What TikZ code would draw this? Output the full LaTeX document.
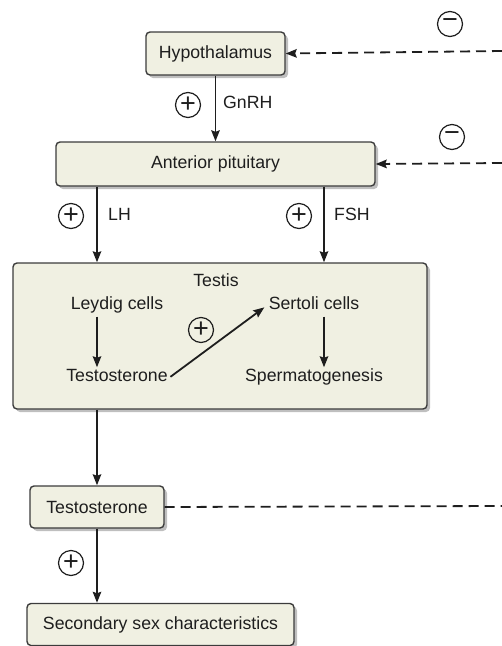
\documentclass[tikz,border=0pt]{standalone}
\usepackage{fontspec}
\setmainfont{Liberation Sans}
\usetikzlibrary{arrows.meta,shadows,calc}
\definecolor{boxfill}{RGB}{240,240,226}
\definecolor{boxline}{RGB}{60,60,60}
\definecolor{ink}{RGB}{30,30,30}
\begin{document}
\begin{tikzpicture}[x=1pt,y=-1pt,
  font=\fontsize{17.7}{20}\selectfont, text=ink,
  organ/.style={draw=boxline, line width=1.4pt, fill=boxfill, rounded corners=4pt,
    inner sep=0pt, drop shadow={shadow xshift=3pt, shadow yshift=-3pt, opacity=0.25, fill=black}},
  lbl/.style={inner sep=1pt, text height=13pt, text depth=4pt},
  sign/.style={circle, draw=ink, line width=1.2pt, minimum size=25pt, inner sep=0pt,
    font=\fontsize{27}{27}\selectfont},
  arr/.style={draw=ink, line width=1.8pt, -{Stealth[length=11pt,width=8.5pt,inset=1.5pt]}},
  fb/.style={draw=ink, line width=1.8pt, dash pattern=on 10pt off 6pt},
  fbarr/.style={fb, -{Stealth[length=11pt,width=8.5pt,inset=1.5pt]}}
]
\useasboundingbox (0,0) rectangle (502,646);

% boxes
\node[organ, minimum width=139pt, minimum height=43pt] (hyp) at (215.5,53.5) {Hypothalamus};
\node[organ, minimum width=319pt, minimum height=44pt] (ant) at (215.5,164) {Anterior pituitary};
\node[organ, minimum width=414pt, minimum height=146pt] (testis) at (220,336) {};
\node[organ, minimum width=134pt, minimum height=42pt] (testo) at (97,507) {Testosterone};
\node[organ, minimum width=267pt, minimum height=42pt] (sec) at (160.5,624.5) {Secondary sex characteristics};

% testis contents
\node[lbl] (testislbl) at (216,282) {Testis};
\node[lbl] (leydig) at (117,305) {Leydig cells};
\node[lbl] (sertoli) at (314,305) {Sertoli cells};
\node[lbl] (testoin) at (117,377) {Testosterone};
\node[lbl] (sperm) at (314,377) {Spermatogenesis};

% reference columns
\coordinate (lhx) at (97,0);
\coordinate (fshx) at (324,0);

% feedback ends (off to the right)
\coordinate (fb1) at (502,51);
\coordinate (fb2) at (502,163);
\coordinate (fb3) at (502,506);

% signs
\node[sign] (p1) at (188,105) {+};
\node[sign] (m1) at (450,24) {−};
\node[sign] (m2) at (452,137) {−};
\node[sign] (p2) at (71,216) {+};
\node[sign] (p3) at (299,216) {+};
\node[sign] (p4) at (201,330) {+};
\node[sign] (p5) at (71,563) {+};

% labels
\node[lbl, anchor=west] (gnrh) at (222,104) {GnRH};
\node[lbl, anchor=west] (lh) at (107,216) {LH};
\node[lbl, anchor=west] (fsh) at (333,216) {FSH};

% connectors
\draw[arr] (hyp.south) -- (ant.north);
\draw[arr] (ant.south -| lhx) -- (testis.north -| lhx);
\draw[arr] (ant.south -| fshx) -- (testis.north -| fshx);
\draw[arr, shorten <=2pt] (leydig.south -| lhx) -- (testoin.north -| lhx);
\draw[arr, shorten <=2pt] (sertoli.south -| fshx) -- (sperm.north -| fshx);
\draw[arr, shorten <=2pt, shorten >=4pt] ($(testoin.east)+(0,1)$) -- (sertoli.west);
\draw[arr] (testis.south -| testo.north) -- (testo.north);
\draw[arr] (testo.south) -- (testo.south |- sec.north);

% feedback
\draw[fbarr] (fb1) -- (hyp.east);
\draw[fbarr] (fb2) -- (ant.east);
\draw[fb] (testo.east) -- (fb3);
\end{tikzpicture}
\end{document}
